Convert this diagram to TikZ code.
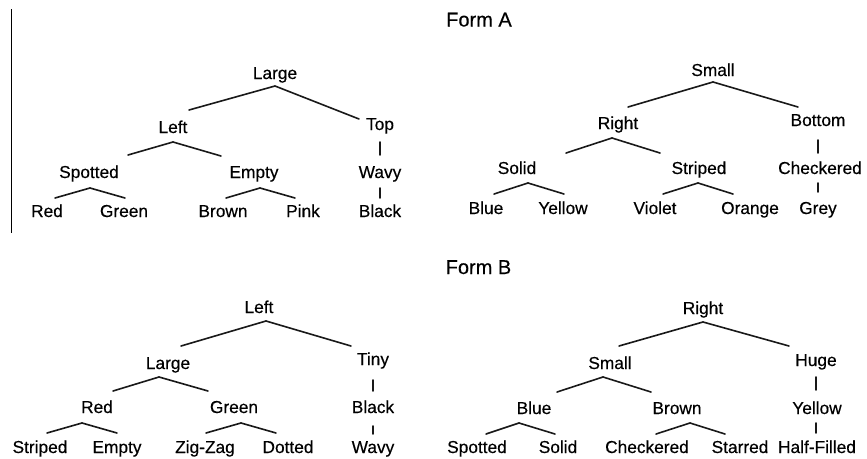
\documentclass[tikz,border=0pt]{standalone}
\usepackage{fontspec}
\setmainfont{Liberation Sans}
\newfontfamily\lblfont{Liberation Sans}[FakeBold=0.35]
\newcommand\conn[4]{\draw[edge] ([shift={(#2)}]#1.center) -- ([shift={(#4)}]#3.center);}
\begin{document}
\begin{tikzpicture}[x=1pt,y=-1pt,
  lbl/.style={inner sep=0pt, text height=12pt, text depth=0pt, font=\lblfont\fontsize{17.3}{20}\selectfont},
  ttl/.style={inner sep=0pt, text height=14pt, text depth=0pt, font=\lblfont\fontsize{20}{24}\selectfont},
  edge/.style={line width=1.6pt, line cap=round, black!90}]
\useasboundingbox (0,0) rectangle (867,458);
\coordinate (vtop) at (11.3,9);
\coordinate (vbot) at (11.3,233);
\draw[line width=1.4pt] (vtop) -- (vbot);
\node[ttl] (fa) at (479,19.5) {Form A};
\node[ttl] (fb) at (478.5,267) {Form B};
% Form A left
\node[lbl] (a1) at (275,73) {Large};
\node[lbl] (a2) at (173,127) {Left};
\node[lbl] (a3) at (380,124) {Top};
\node[lbl] (a4) at (89,172) {Spotted};
\node[lbl] (a5) at (254,172) {Empty};
\node[lbl] (a6) at (380,172) {Wavy};
\node[lbl] (a7) at (47,211) {Red};
\node[lbl] (a8) at (124,211) {Green};
\node[lbl] (a9) at (223,211) {Brown};
\node[lbl] (a10) at (303,211) {Pink};
\node[lbl] (a11) at (380,211) {Black};
\conn{a1}{0,13}{a2}{16,-17}
\conn{a1}{0,13}{a3}{-21,-5}
\conn{a2}{0,15}{a4}{39,-17}
\conn{a2}{0,15}{a5}{-33,-16}
\conn{a3}{0,18}{a6}{0,-17}
\conn{a4}{1,16}{a7}{8,-13}
\conn{a4}{1,16}{a8}{1,-13}
\conn{a5}{6,16}{a9}{3,-13}
\conn{a5}{6,16}{a10}{-8,-13}
\conn{a6}{0,16}{a11}{0,-13}
% Form A right
\node[lbl] (b1) at (713,70) {Small};
\node[lbl] (b2) at (618,123) {Right};
\node[lbl] (b3) at (818,120) {Bottom};
\node[lbl] (b4) at (517,168) {Solid};
\node[lbl] (b5) at (699,168) {Striped};
\node[lbl] (b6) at (820,168) {Checkered};
\node[lbl] (b7) at (486,208) {Blue};
\node[lbl] (b8) at (563,208) {Yellow};
\node[lbl] (b9) at (655,208) {Violet};
\node[lbl] (b10) at (750,208) {Orange};
\node[lbl] (b11) at (818,208) {Grey};
\conn{b1}{0,12}{b2}{10,-16}
\conn{b1}{0,12}{b3}{-20,-13}
\conn{b2}{-6,15}{b4}{49,-15}
\conn{b2}{-6,15}{b5}{-39,-15}
\conn{b3}{0,20}{b6}{-2,-15}
\conn{b4}{11,15}{b7}{8,-14}
\conn{b4}{11,15}{b8}{1,-14}
\conn{b5}{-1,15}{b9}{8,-14}
\conn{b5}{-1,15}{b10}{-17,-14}
\conn{b6}{-2,15}{b11}{0,-16}
% Form B left
\node[lbl] (c1) at (259,307) {Left};
\node[lbl] (c2) at (168,363) {Large};
\node[lbl] (c3) at (373,359) {Tiny};
\node[lbl] (c4) at (97,407) {Red};
\node[lbl] (c5) at (234,407) {Green};
\node[lbl] (c6) at (373,407) {Black};
\node[lbl] (c7) at (40,447) {Striped};
\node[lbl] (c8) at (117,447) {Empty};
\node[lbl] (c9) at (205,447) {Zig-Zag};
\node[lbl] (c10) at (288,447) {Dotted};
\node[lbl] (c11) at (373,447) {Wavy};
\conn{c1}{7,14}{c2}{13,-17}
\conn{c1}{7,14}{c3}{-22,-13}
\conn{c2}{-9,14}{c4}{16,-16}
\conn{c2}{-9,14}{c5}{-26,-16}
\conn{c3}{0,21}{c6}{0,-16}
\conn{c4}{-15,16}{c7}{7,-14}
\conn{c4}{-15,16}{c8}{0,-14}
\conn{c5}{7,16}{c9}{1,-14}
\conn{c5}{7,16}{c10}{-12,-14}
\conn{c6}{0,19}{c11}{0,-13}
% Form B right
\node[lbl] (d1) at (703,308) {Right};
\node[lbl] (d2) at (610,363) {Small};
\node[lbl] (d3) at (816,360) {Huge};
\node[lbl] (d4) at (534,408) {Blue};
\node[lbl] (d5) at (677,408) {Brown};
\node[lbl] (d6) at (817,408) {Yellow};
\node[lbl] (d7) at (477,447) {Spotted};
\node[lbl] (d8) at (558,447) {Solid};
\node[lbl] (d9) at (647,447) {Checkered};
\node[lbl] (d10) at (740,447) {Starred};
\node[lbl] (d11) at (817,447) {Half-Filled};
\conn{d1}{0,14}{d2}{9,-17}
\conn{d1}{0,14}{d3}{-27,-14}
\conn{d2}{-7,14}{d4}{23,-16}
\conn{d2}{-7,14}{d5}{-26,-16}
\conn{d3}{0,17}{d6}{-1,-18}
\conn{d4}{-15,15}{d7}{9,-13}
\conn{d4}{-15,15}{d8}{-3,-13}
\conn{d5}{13,15}{d9}{9,-13}
\conn{d5}{13,15}{d10}{-15,-13}
\conn{d6}{-1,15}{d11}{-1,-14}
\end{tikzpicture}
\end{document}
